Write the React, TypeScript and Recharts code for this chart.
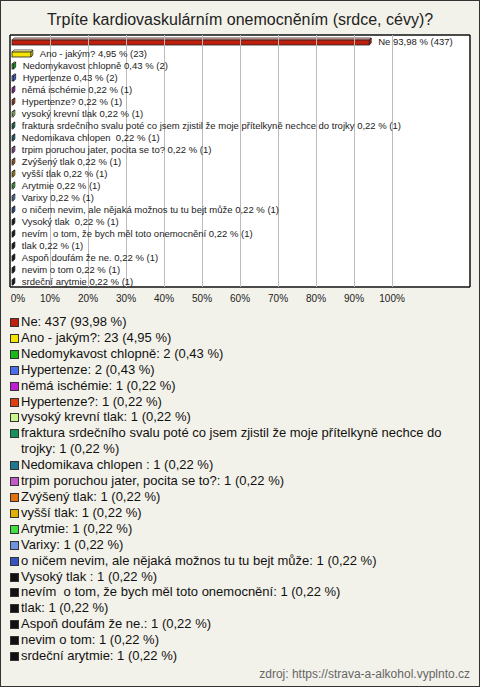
import React from "react";
import { BarChart, Bar, XAxis, YAxis, CartesianGrid, Cell } from "recharts";

const categories = [
  "Ne",
  "Ano - jakým?",
  "Nedomykavost chlopně",
  "Hypertenze",
  "němá ischémie",
  "Hypertenze?",
  "vysoký krevní tlak",
  "fraktura srdečního svalu poté co jsem zjistil že moje přítelkyně nechce do trojky",
  "Nedomikava chlopen ",
  "trpim poruchou jater, pocita se to?",
  "Zvýšený tlak",
  "vyšší tlak",
  "Arytmie",
  "Varixy",
  "o ničem nevim, ale nějaká možnos tu tu bejt může",
  "Vysoký tlak ",
  "nevím  o tom, že bych měl toto onemocnění",
  "tlak",
  "Aspoň doufám že ne.",
  "nevim o tom",
  "srdeční arytmie",
];

const counts = [437, 23, 2, 2, 1, 1, 1, 1, 1, 1, 1, 1, 1, 1, 1, 1, 1, 1, 1, 1, 1];

const percents = [93.98, 4.95, 0.43, 0.43, 0.22, 0.22, 0.22, 0.22, 0.22, 0.22, 0.22, 0.22, 0.22, 0.22, 0.22, 0.22, 0.22, 0.22, 0.22, 0.22, 0.22];

const xTicks = [0, 10, 20, 30, 40, 50, 60, 70, 80, 90, 100];
const xDomain: [number, number] = [-0.53, 120.5];

const colors = [
  "#bf1f0d", "#f5e400", "#17b817", "#4a6ef0", "#c21fd4", "#e0400f", "#c8f58c",
  "#16915e", "#1e7891", "#c259c7", "#e2720c", "#e2b000", "#3fe03f", "#6e95e0",
  "#3454c3", "#111111", "#111111", "#111111", "#111111", "#111111", "#111111",
];

const title = "Trpíte kardiovaskulárním onemocněním (srdce, cévy)?";
const source = "zdroj: https://strava-a-alkohol.vyplnto.cz";

const FONT = '"Liberation Sans", Arial, sans-serif';
const PLOT_H = 252;

const fmt = (v: number) => v.toFixed(2).replace(".", ",");

const data = categories.map((name, i) => ({ name, value: percents[i], count: counts[i] }));

function Bar3D(props: any) {
  const { x, y, width, height, fill } = props;
  const d = 2;
  const w = Math.max(width || 0, 0);
  const h = height;
  const stroke = "#222";
  return (
    <g>
      <polygon
        points={`${x},${y + d} ${x + d},${y} ${x + w + d},${y} ${x + w},${y + d}`}
        fill={fill}
        stroke={stroke}
        strokeWidth={0.8}
      />
      <polygon
        points={`${x},${y + d} ${x + d},${y} ${x + w + d},${y} ${x + w},${y + d}`}
        fill="#fff"
        fillOpacity={0.45}
      />
      <polygon
        points={`${x + w},${y + d} ${x + w + d},${y} ${x + w + d},${y + h - d} ${x + w},${y + h}`}
        fill={fill}
        stroke={stroke}
        strokeWidth={0.8}
      />
      <rect x={x} y={y + d} width={w} height={h - d} fill={fill} stroke={stroke} strokeWidth={0.8} />
    </g>
  );
}

function BarLabel(props: any) {
  const { x, y, width, height, index } = props;
  const text = `${categories[index]} ${fmt(percents[index])} % (${counts[index]})`;
  return (
    <text
      x={x + width + 9}
      y={y + height / 2 + 1}
      fontSize={9.5}
      fontFamily={FONT}
      fill="#222"
      dominantBaseline="middle"
      style={{ whiteSpace: "pre" }}
    >
      {text}
    </text>
  );
}

function XTick(props: any) {
  const { x, y, payload } = props;
  const dx = payload.value === 0 ? 6 : 0;
  const bottom = y - 8;
  return (
    <g>
      {payload.value !== 0 && (
        <line
          x1={x}
          x2={x}
          y1={bottom}
          y2={bottom - PLOT_H}
          stroke="#bcbcbc"
          strokeWidth={1}
          shapeRendering="crispEdges"
        />
      )}
      <text x={x + dx} y={y} dy="0.71em" textAnchor="middle" fontSize={10} fontFamily={FONT} fill="#222">
        {`${payload.value}%`}
      </text>
    </g>
  );
}

const getOffset = (p: any) => {
  const o = p && p.offset ? p.offset : { left: 10, top: 35, width: 460, height: PLOT_H };
  return o;
};

const borderVertical = (p: any) => {
  const o = getOffset(p);
  return [o.left, o.left + o.width];
};
const borderHorizontal = (p: any) => {
  const o = getOffset(p);
  return [o.top, o.top + o.height];
};

export default function App() {
  return (
    <div
      style={{
        position: "fixed",
        left: 0,
        top: 0,
        width: 480,
        height: 687,
        background: "#f3f2ea",
        boxShadow: "inset 0 0 0 1px #333",
        fontFamily: FONT,
        overflow: "hidden",
      }}
    >
      <div
        style={{
          position: "absolute",
          top: 10,
          left: 0,
          width: 480,
          textAlign: "center",
          fontSize: 16,
          lineHeight: "20px",
          color: "#222",
        }}
      >
        {title}
      </div>
      <div style={{ position: "absolute", left: 0, top: 0 }}>
        <BarChart
          width={480}
          height={310}
          data={data}
          layout="vertical"
          margin={{ top: 35, right: 10, bottom: 3, left: 10 }}
        >
          <CartesianGrid
            fill="#ffffff"
            stroke="#111"
            strokeWidth={1.5}
            verticalCoordinatesGenerator={borderVertical}
            horizontalCoordinatesGenerator={borderHorizontal}
          />
          <XAxis
            type="number"
            dataKey="value"
            domain={xDomain}
            ticks={xTicks}
            allowDataOverflow
            height={20}
            tickLine={false}
            axisLine={false}
            tick={<XTick />}
          />
          <YAxis
            type="category"
            dataKey="name"
            width={0}
            tick={false}
            tickLine={false}
            axisLine={false}
          />
          <Bar dataKey="value" barSize={7} isAnimationActive={false} shape={<Bar3D />} label={<BarLabel />}>
            {data.map((_, i) => (
              <Cell key={i} fill={colors[i]} />
            ))}
          </Bar>
        </BarChart>
      </div>
      <div
        style={{
          position: "absolute",
          top: 314,
          left: 10,
          width: 455,
          fontSize: 13,
          lineHeight: "15.9px",
          color: "#111",
        }}
      >
        {categories.map((name, i) => (
          <div key={i} style={{ display: "flex", alignItems: "flex-start" }}>
            <span
              style={{
                display: "inline-block",
                width: 7,
                height: 7,
                marginTop: 4,
                marginRight: 2,
                background: colors[i],
                border: "1px solid #333",
                flex: "none",
              }}
            />
            <span style={{ whiteSpace: "pre-wrap" }}>{`${name}: ${counts[i]} (${fmt(percents[i])} %)`}</span>
          </div>
        ))}
      </div>
      <div
        style={{
          position: "absolute",
          right: 10,
          top: 667,
          fontSize: 12,
          color: "#666",
        }}
      >
        {source}
      </div>
    </div>
  );
}
